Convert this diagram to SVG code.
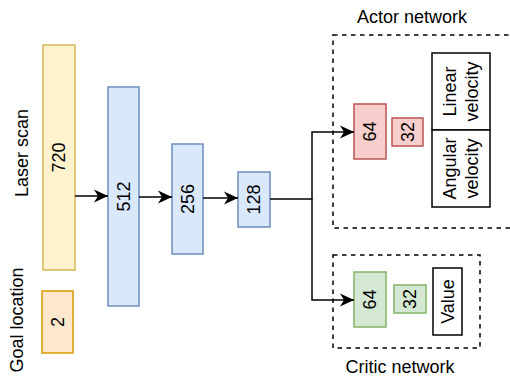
<svg xmlns="http://www.w3.org/2000/svg" width="510" height="377" viewBox="0 0 510 377">
<style>
text{font-family:"Liberation Sans",Arial,sans-serif;font-size:18px;fill:#000;text-anchor:middle;dominant-baseline:central}
.b{stroke-width:1.5}
.y{fill:#fff2cc;stroke:#d6b656}
.o{fill:#ffe6cc;stroke:#d79b00}
.bl{fill:#dae8fc;stroke:#6c8ebf}
.r{fill:#f8cecc;stroke:#b85450}
.g{fill:#d5e8d4;stroke:#82b366}
.w{fill:#fff;stroke:#000}
.d{fill:none;stroke:#000;stroke-width:1.5;stroke-dasharray:4.5 4.5}
.c{fill:none;stroke:#000;stroke-width:1.5}
</style>
<defs>
<marker id="ah" markerUnits="userSpaceOnUse" markerWidth="20" markerHeight="20" refX="15" refY="10" orient="auto" viewBox="0 0 20 20">
<path d="M15,10 L1,3.5 L5,10 L1,16.5 Z" fill="#000"/>
</marker>
</defs>
<g id="actor-group">
<rect class="d" x="333" y="35" width="190" height="193"/>
<text x="412" y="17">Actor network</text>
</g>
<g id="critic-group">
<rect class="d" x="333" y="255" width="147" height="93"/>
<text x="400" y="367">Critic network</text>
</g>
<g id="laser-label"><text transform="rotate(-90 22 153)" x="22" y="153">Laser scan</text></g>
<g id="goal-label"><text transform="rotate(-90 17 320)" x="17" y="320">Goal location</text></g>
<g id="n720"><rect class="b y" x="43" y="45" width="32" height="225"/><text transform="rotate(-90 59 157.5)" x="59" y="157.5">720</text></g>
<g id="n2"><rect class="b o" x="42" y="291" width="31" height="62"/><text transform="rotate(-90 57.5 322)" x="57.5" y="322">2</text></g>
<g id="n512"><rect class="b bl" x="108" y="87" width="31" height="219"/><text transform="rotate(-90 123.5 196.5)" x="123.5" y="196.5">512</text></g>
<g id="n256"><rect class="b bl" x="172" y="144" width="31" height="110"/><text transform="rotate(-90 187.5 199)" x="187.5" y="199">256</text></g>
<g id="n128"><rect class="b bl" x="238" y="172" width="32" height="55"/><text transform="rotate(-90 254 199.5)" x="254" y="199.5">128</text></g>
<g id="a64"><rect class="b r" x="354" y="104" width="32" height="55"/><text transform="rotate(-90 370 131.5)" x="370" y="131.5">64</text></g>
<g id="a32"><rect class="b r" x="392" y="118" width="31" height="28"/><text transform="rotate(-90 407.5 132)" x="407.5" y="132">32</text></g>
<g id="linear"><rect class="b w" x="432" y="53" width="58" height="77"/><text transform="rotate(-90 461 91.5)" x="461" y="91.5"><tspan x="461" dy="-11">Linear</tspan><tspan x="461" dy="22">velocity</tspan></text></g>
<g id="angular"><rect class="b w" x="432" y="130" width="58" height="77"/><text transform="rotate(-90 461 168.5)" x="461" y="168.5"><tspan x="461" dy="-11">Angular</tspan><tspan x="461" dy="22">velocity</tspan></text></g>
<g id="c64"><rect class="b g" x="354" y="272" width="32" height="55"/><text transform="rotate(-90 370 299.5)" x="370" y="299.5">64</text></g>
<g id="c32"><rect class="b g" x="394" y="285" width="32" height="28"/><text transform="rotate(-90 410 299)" x="410" y="299">32</text></g>
<g id="value"><rect class="b w" x="433" y="268" width="29" height="67"/><text transform="rotate(-90 447.5 301.5)" x="447.5" y="301.5">Value</text></g>
<g id="connectors">
<path class="c" d="M75,196 L108,196" marker-end="url(#ah)"/>
<path class="c" d="M139,197 L172,197" marker-end="url(#ah)"/>
<path class="c" d="M203,198 L238,198" marker-end="url(#ah)"/>
<path class="c" d="M270,199 L312,199 L312,132 L354,132" marker-end="url(#ah)"/>
<path class="c" d="M312,199 L312,300 L354,300" marker-end="url(#ah)"/>
</g>
</svg>
